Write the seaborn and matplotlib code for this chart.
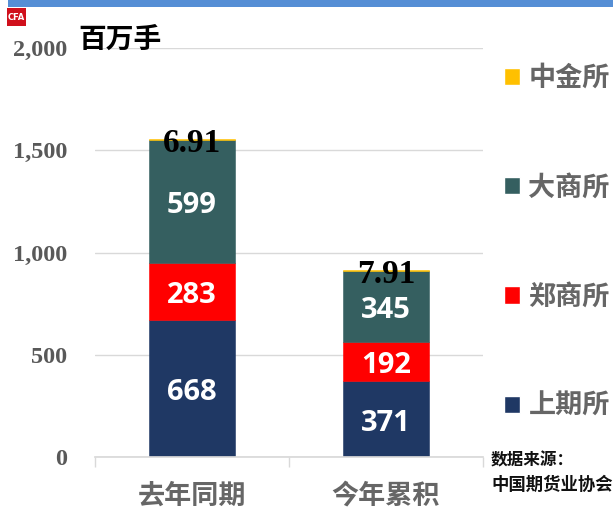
import matplotlib
matplotlib.use('Agg')
import matplotlib.pyplot as plt
import seaborn as sns
import numpy as np
from matplotlib.patches import Rectangle, Patch

W, H = 613, 509

categories = ['去年同期', '今年累积']
exchanges = ['上期所', '郑商所', '大商所', '中金所']
shfe = [668, 371]
czce = [283, 192]
dce = [599, 345]
cffex = [6.91, 7.91]
series = [shfe, czce, dce, cffex]
colors = ['#1F3864', '#FF0000', '#355F60', '#FFC000']
label_colors = ['white', 'white', 'white', 'black']
y_ticks = [0, 500, 1000, 1500, 2000]

sns.set_theme(style='white')
cjk = ['Noto Sans CJK SC', 'DejaVu Sans']
plt.rcParams['font.family'] = cjk

fig = plt.figure(figsize=(W / 100, H / 100), dpi=100)
ax = fig.add_axes([95 / W, 1 - 457 / H, (483 - 95) / W, (457 - 48) / H])

bottom = np.zeros(2)
for vals, col, lab_col in zip(series, colors, label_colors):
    sns.barplot(x=categories, y=vals, color=col, width=0.44, bottom=bottom,
                saturation=1, edgecolor=col, linewidth=0.4, ax=ax)
    cont = ax.containers[-1]
    if lab_col == 'black':
        texts = ax.bar_label(cont, labels=[str(v) for v in vals], label_type='center', color=lab_col,
                             fontsize=24, fontweight='bold', family='Liberation Serif')
    else:
        texts = ax.bar_label(cont, labels=[str(v) for v in vals], label_type='center', color=lab_col,
                             fontsize=21, fontweight='bold', family='Open Sans')
    for t in texts:
        t.xyann = (0, -3)
    bottom = bottom + np.array(vals)

ax.set_xlim(-0.5, 1.5)
ax.set_ylim(0, 2000)
ax.set_yticks(y_ticks)
ax.set_yticklabels([f'{v:,}' for v in y_ticks], family='Liberation Serif', fontweight='bold',
                   fontsize=17.5, color='#595959')
ax.yaxis.grid(True, color='#D9D9D9', linewidth=1)
ax.set_axisbelow(True)
ax.tick_params(axis='y', length=0, pad=20)
ax.tick_params(axis='x', which='major', length=0, pad=18, labelsize=19.5, labelcolor='#666666')
ax.set_xticks([-0.5, 0.5, 1.5], minor=True)
ax.tick_params(axis='x', which='minor', bottom=True, length=7, color='#D9D9D9', width=1, direction='out')
sns.despine(ax=ax, left=True, top=True, right=True)
ax.spines['bottom'].set_color('#D9D9D9')
ax.set_xlabel('')
ax.set_ylabel('')
for t in ax.get_xticklabels():
    t.set_fontweight('bold')

# legend on the right, top entry first
handles = [Patch(facecolor=c, label=e) for c, e in zip(colors[::-1], exchanges[::-1])]
leg = ax.legend(handles=handles, loc='upper left', bbox_to_anchor=(504 / W, 1 - 64 / H),
                bbox_transform=fig.transFigure, frameon=False, ncol=1,
                labelspacing=3.0, handlelength=0.6, handleheight=0.6, handletextpad=0.3,
                borderpad=0, borderaxespad=0, labelcolor='#666666',
                prop={'weight': 'bold', 'size': 19.5})

# header band and logo
fig.add_artist(Rectangle((8 / W, 1 - 7 / H), (W - 8) / W, 7 / H, color='#558ED5', lw=0))
fig.add_artist(Rectangle((7 / W, 1 - 26 / H), 19 / W, 18 / H, color='#D0101C', lw=0))
fig.text(16.5 / W, 1 - 17.5 / H, 'CFA', color='white', fontsize=6, fontweight='bold',
         ha='center', va='center', family='DejaVu Sans')

fig.text(78 / W, 1 - 40 / H, '百万手', color='black', fontsize=20, va='center', fontweight='bold')
fig.text(491 / W, 1 - 460 / H, '数据来源：', color='#111111', fontsize=12, va='center', fontweight='bold')
fig.text(491 / W, 1 - 485 / H, '中国期货业协会', color='#111111', fontsize=12.5, va='center', fontweight='bold')

fig.savefig('out.png', dpi=100)
